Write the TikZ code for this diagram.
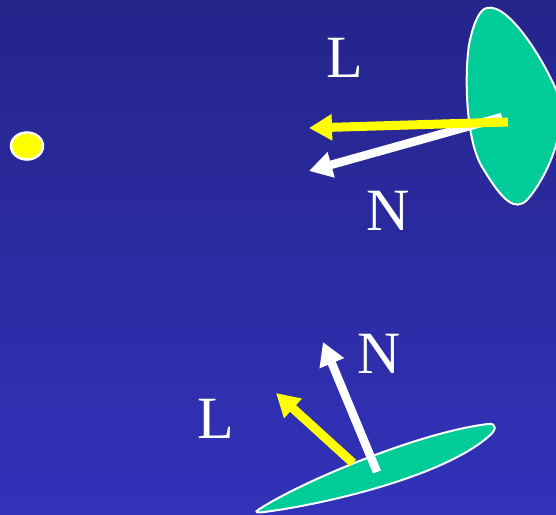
\documentclass[tikz,border=0pt]{standalone}
\usepackage{fontspec}
\setmainfont{Liberation Serif}
\usetikzlibrary{arrows.meta}
\definecolor{bgtop}{RGB}{36,36,138}
\definecolor{bgbot}{RGB}{50,50,186}
\definecolor{leaf}{RGB}{0,204,153}
\definecolor{lighty}{RGB}{255,255,0}
\begin{document}
\begin{tikzpicture}[x=1pt,y=-1pt,
  surf/.style={fill=leaf,draw=white,line width=2pt},
  vecL/.style={draw=lighty,line width=9pt,-{Triangle[length=23pt,width=25pt]}},
  vecN/.style={draw=white,line width=8.5pt,-{Triangle[length=23pt,width=25pt]}},
  lbl/.style={text=white,inner sep=0pt,font=\fontsize{60}{60}\selectfont}]
\useasboundingbox (0,0) rectangle (556,514);
\begin{scope}
\clip (0,0) rectangle (556,514);
\shade[top color=bgtop,bottom color=bgbot] (0,0) rectangle (556,514);
% light source
\draw[fill=lighty,draw=white,line width=2.5pt] (27,146) ellipse [x radius=16pt,y radius=13.5pt];
% top surface
\path[surf] (487,8) .. controls (510,2) and (550,70) .. (560,100)
  .. controls (566,135) and (545,180) .. (527,200)
  .. controls (515,212) and (502,200) .. (484,170)
  .. controls (463,140) and (465,60) .. (470,40)
  .. controls (474,22) and (480,9) .. (487,8) -- cycle;
\coordinate (tn0) at (502,117);
\coordinate (tn1) at (309,171);
\coordinate (tl0) at (508,122);
\coordinate (tl1) at (309,128);
\draw[vecN] (tn0) -- (tn1);
\draw[vecL] (tl0) -- (tl1);
\node[lbl] (tL) at (345,58) {L};
\node[lbl] (tN) at (388,211) {N};
% bottom surface
\path[surf] (258,510) .. controls (300,482) and (420,432) .. (488,424)
  .. controls (497,423) and (497,430) .. (488,437)
  .. controls (440,478) and (320,505) .. (264,512)
  .. controls (256,513) and (255,512) .. (258,510) -- cycle;
\coordinate (bl0) at (353,463);
\coordinate (bl1) at (276,393);
\coordinate (bn0) at (377,472);
\coordinate (bn1) at (323,342);
\draw[vecN] (bn0) -- (bn1);
\draw[vecL] (bl0) -- (bl1);
\node[lbl] (bN) at (379,354) {N};
\node[lbl] (bL) at (216,419) {L};
\end{scope}
\end{tikzpicture}
\end{document}
